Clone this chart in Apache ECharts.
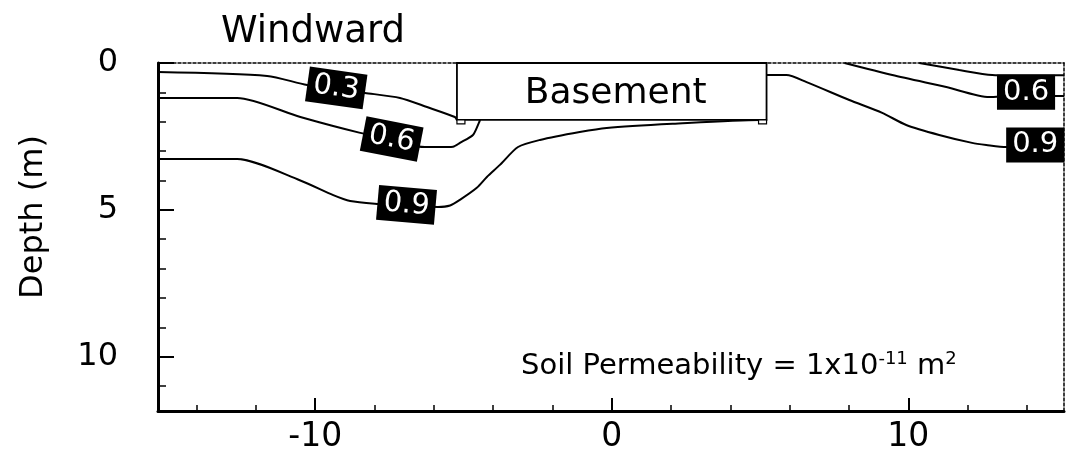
<!DOCTYPE html>
<html>
<head>
<meta charset="utf-8">
<script src="https://cdn.jsdelivr.net/npm/echarts@6/dist/echarts.min.js"></script>
<style>
  html, body { margin: 0; padding: 0; background: #fff; }
  #chart { width: 1068px; height: 462px; }
</style>
</head>
<body>
<div id="chart"></div>
<script>
// Axis extents and tick values (distance in m, depth in m)
const xExtent = [-15.3, 15.25];
const depthExtent = [0, 11.85];
const xMajorTicks = [-10, 0, 10];
const xMinorTicks = [-14, -12, -8, -6, -4, -2, 2, 4, 6, 8, 12, 14];
const depthMajorTicks = [0, 5, 10];
const depthMinorTicks = [1, 2, 3, 4, 6, 7, 8, 9, 11];

// Pressure contours, [horizontal distance, depth]
const contour03Windward = [[-15.3, 0.31], [-11.62, 0.44], [-10.27, 0.75], [-8.32, 1.02], [-7.14, 1.19], [-6.23, 1.50], [-5.29, 1.84], [-5.22, 1.94]];
const contour06Windward = [[-15.3, 1.19], [-12.63, 1.19], [-10.5, 1.84], [-8.48, 2.38], [-6.30, 2.86], [-5.79, 2.86], [-5.35, 2.85], [-5.12, 2.72], [-4.68, 2.45], [-4.48, 2.04], [-4.44, 1.94]];
const contour09Windward = [[-15.3, 3.27], [-12.63, 3.27], [-10.5, 4.0], [-9.39, 4.5], [-8.82, 4.70], [-7.91, 4.80], [-6.94, 4.86], [-5.86, 4.90], [-5.45, 4.85], [-5.12, 4.66], [-4.55, 4.25], [-4.21, 3.88], [-3.77, 3.47], [-3.16, 2.86], [-2.42, 2.62], [-1.08, 2.35], [-0.17, 2.21], [2.05, 2.07], [4.98, 1.94], [5.22, 1.94]];
const contour03Leeward = [[10.37, 0], [11.72, 0.24], [12.83, 0.41], [13.5, 0.42], [15.25, 0.42]];
const contour06Leeward = [[7.85, 0], [9.46, 0.41], [11.28, 0.82], [12.73, 1.16], [13.5, 1.12], [15.25, 1.12]];
const contour09Leeward = [[5.22, 0.41], [5.89, 0.41], [6.57, 0.65], [8.01, 1.26], [9.12, 1.70], [9.93, 2.11], [11.04, 2.45], [12.15, 2.72], [12.63, 2.79], [13.30, 2.86], [15.25, 2.86]];

// Contour level tags
const tagTexts = ['0.3', '0.6', '0.9', '0.6', '0.9'];
const tagX = [-9.29, -7.42, -6.92, 13.97, 14.28];
const tagDepth = [0.85, 2.59, 4.83, 1.0, 2.79];
const tagTilt = [-8, -11, -5, 0, 0];

// Basement outline and footings
const basementSpan = [-5.22, 5.22];
const basementDepth = 1.94;
const footingX = [-5.22, 5.22];

const FONT = 'DejaVu Sans';
const chart = echarts.init(document.getElementById('chart'), null, { renderer: 'canvas' });

const contourLines = [contour03Windward, contour06Windward, contour09Windward,
                      contour03Leeward, contour06Leeward, contour09Leeward].map(pts => ({
  type: 'line',
  data: pts,
  showSymbol: false,
  smooth: 0.25,
  lineStyle: { color: '#000', width: 2 },
  z: 3,
  silent: true
}));

const tagData = tagTexts.map((t, i) => ({
  name: t,
  value: [tagX[i], tagDepth[i]],
  label: { rotate: tagTilt[i] }
}));

const option = {
  animation: false,
  backgroundColor: '#fff',
  title: {
    text: 'Windward',
    left: 216,
    top: 9,
    textStyle: { fontFamily: FONT, fontSize: 37, fontWeight: 'normal', color: '#000' }
  },
  grid: { left: 158, right: 4, top: 63, bottom: 51, outerBoundsMode: 'none' },
  xAxis: [
    {
      type: 'value', min: xExtent[0], max: xExtent[1], position: 'bottom',
      axisLine: { show: true, onZero: false, lineStyle: { color: '#000', width: 3 } },
      axisTick: { show: true, inside: true, length: 13, customValues: xMajorTicks, lineStyle: { color: '#000', width: 2 } },
      axisLabel: { show: true, customValues: xMajorTicks, margin: 10, fontFamily: FONT, fontSize: 33, color: '#000' },
      splitLine: { show: false }
    },
    {
      type: 'value', min: xExtent[0], max: xExtent[1], position: 'bottom',
      axisLine: { show: false, onZero: false },
      axisTick: { show: true, inside: true, length: 6, customValues: xMinorTicks, lineStyle: { color: '#000', width: 1.5 } },
      axisLabel: { show: false },
      splitLine: { show: false }
    },
    {
      type: 'value', min: xExtent[0], max: xExtent[1], position: 'top',
      axisLine: { show: true, onZero: false, lineStyle: { color: '#000', width: 1.5, type: [3, 2] } },
      axisTick: { show: false }, axisLabel: { show: false }, splitLine: { show: false }
    }
  ],
  yAxis: [
    {
      type: 'value', inverse: true, min: depthExtent[0], max: depthExtent[1], position: 'left',
      name: 'Depth (m)', nameLocation: 'middle', nameGap: 108,
      nameTextStyle: { fontFamily: FONT, fontSize: 32, color: '#000', padding: [0, 0, 0, 40] },
      axisLine: { show: true, onZero: false, lineStyle: { color: '#000', width: 3 } },
      axisTick: { show: true, inside: true, length: 16, customValues: depthMajorTicks, lineStyle: { color: '#000', width: 2 } },
      axisLabel: { show: true, customValues: depthMajorTicks, margin: 40, fontFamily: FONT, fontSize: 32, color: '#000', padding: [6, 0, 0, 0] },
      splitLine: { show: false }
    },
    {
      type: 'value', inverse: true, min: depthExtent[0], max: depthExtent[1], position: 'left',
      axisLine: { show: false, onZero: false },
      axisTick: { show: true, inside: true, length: 8, customValues: depthMinorTicks, lineStyle: { color: '#000', width: 1.5 } },
      axisLabel: { show: false },
      splitLine: { show: false }
    },
    {
      type: 'value', inverse: true, min: depthExtent[0], max: depthExtent[1], position: 'right',
      axisLine: { show: true, onZero: false, lineStyle: { color: '#000', width: 1.5, type: [3, 2] } },
      axisTick: { show: false }, axisLabel: { show: false }, splitLine: { show: false }
    }
  ],
  graphic: [
    {
      type: 'text',
      left: 521,
      top: 350,
      style: {
        text: 'Soil Permeability = 1x10{sup|-11} m{sup|2}',
        font: '29px "DejaVu Sans"',
        fill: '#000',
        rich: {
          sup: { fontFamily: FONT, fontSize: 18, verticalAlign: 'top', fill: '#000', padding: [0, 0, 14, 0] }
        }
      },
      z: 10
    }
  ],
  series: [
    ...contourLines,
    {
      type: 'custom',
      z: 5,
      silent: true,
      data: [[basementSpan[0], basementSpan[1], 0, basementDepth]],
      renderItem(params, api) {
        const a = api.coord([api.value(0), api.value(2)]);
        const b = api.coord([api.value(1), api.value(3)]);
        const children = [
          { type: 'rect', shape: { x: a[0], y: a[1], width: b[0] - a[0], height: b[1] - a[1] },
            style: { fill: '#fff', stroke: '#000', lineWidth: 1.8 } },
          { type: 'text', style: { text: 'Basement', x: (a[0] + b[0]) / 2 + 4, y: (a[1] + b[1]) / 2 + 2,
            align: 'center', verticalAlign: 'middle', font: '36px "DejaVu Sans"', fill: '#000' } }
        ];
        footingX.forEach((fx, i) => {
          const p = api.coord([fx, basementDepth]);
          const w = 8, h = 4;
          children.push({ type: 'rect', shape: { x: i === 0 ? p[0] : p[0] - w, y: p[1], width: w, height: h },
            style: { fill: '#fff', stroke: '#000', lineWidth: 1.2 } });
        });
        return { type: 'group', children };
      }
    },
    {
      type: 'scatter',
      z: 8,
      silent: true,
      symbolSize: 0,
      itemStyle: { opacity: 1 },
      emphasis: { disabled: true },
      data: tagData,
      label: {
        show: true,
        position: 'inside',
        formatter: p => p.name,
        fontFamily: FONT,
        fontSize: 29,
        color: '#fff',
        opacity: 1,
        backgroundColor: '#000',
        padding: [3, 6, 2, 6],
        lineHeight: 30
      }
    }
  ]
};

chart.setOption(option);
</script>
</body>
</html>
